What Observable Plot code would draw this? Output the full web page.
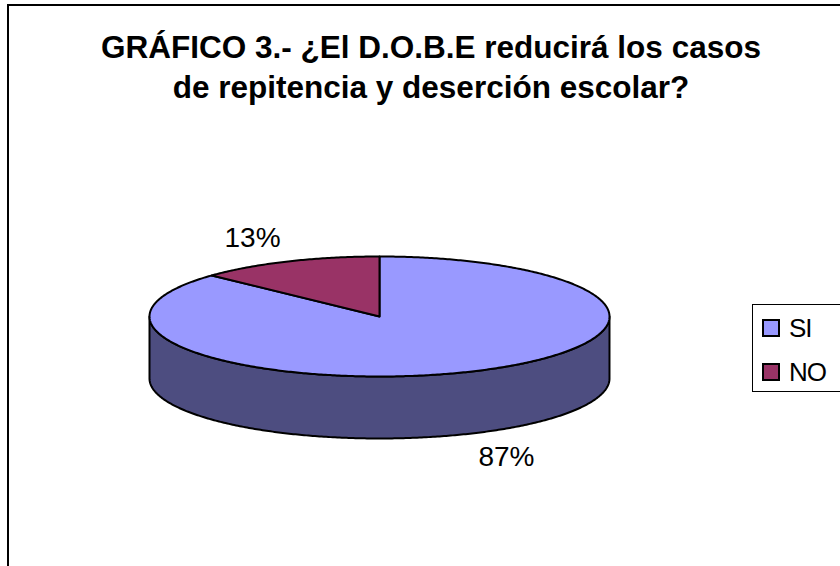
<!DOCTYPE html>
<html>
<head>
<meta charset="utf-8">
<script src="https://cdn.jsdelivr.net/npm/d3@7"></script>
<script src="https://cdn.jsdelivr.net/npm/@observablehq/plot@0.6"></script>
<style>
  html, body { margin: 0; padding: 0; background: #fff; }
  #page { position: relative; width: 840px; height: 566px; overflow: hidden; font-family: "Liberation Sans", Arial, sans-serif; color: #000; }
  #frame { position: absolute; left: 7px; top: 4px; width: 840px; height: 600px; border: 2px solid #000; box-shadow: 1px 1px 0 #bbb; }
  #title { position: absolute; left: 31px; width: 800px; top: 27px; text-align: center; font-weight: bold; font-size: 31.5px; line-height: 40px; white-space: nowrap; }
  #legend { position: absolute; left: 752px; top: 304px; width: 100px; height: 88px; border: 1.5px solid #000; background: #fff; box-sizing: border-box; }
  .item { position: absolute; left: 9px; display: flex; align-items: center; font-size: 26px; letter-spacing: -1px; height: 30px; }
  .swatch { width: 18px; height: 18px; border: 2px solid #000; box-sizing: border-box; margin-right: 9px; }
  #chart { position: absolute; left: 0; top: 0; }
  #chart svg { background: transparent; }
</style>
</head>
<body>
<div id="page">
  <div id="frame"></div>
  <div id="chart"></div>
  <div id="title"></div>
  <div id="legend"></div>
</div>
<script>
const titleLines = ["GRÁFICO 3.- ¿El D.O.B.E reducirá los casos", "de repitencia y deserción escolar?"];
const categories = ["SI", "NO"];
const values = [87, 13];
const topColors = ["#9999FF", "#993366"];
const wallColor = "#4D4D80";

// Pie layout: x is in pie radii, y in units of the squashed vertical radius
const width = 840, height = 566;
const cx = 379, cy = 316, rx = 230, ry = 60, depth = 62 / ry;
const labelRadiusX = 1.39, labelRadiusY = 1.43;

const total = d3.sum(values);
let cumulative = 0;
const slices = categories.map((name, i) => {
  const a0 = cumulative / total * 2 * Math.PI;
  cumulative += values[i];
  const a1 = cumulative / total * 2 * Math.PI;
  return {name, value: values[i], a0, a1, color: topColors[i]};
});

const rim = (a, drop = 0) => ({x: Math.sin(a), y: Math.cos(a) - drop});
const arc = (a0, a1, drop = 0) => {
  const n = Math.max(2, Math.ceil(Math.abs(a1 - a0) / 0.01));
  return d3.range(n + 1).map(i => rim(a0 + (a1 - a0) * i / n, drop));
};

// Visible outer wall: lower half of the rim
const wall = [...arc(Math.PI / 2, 3 * Math.PI / 2), ...arc(3 * Math.PI / 2, Math.PI / 2, depth)];

const sliceShapes = slices.map(s => ({
  ...s,
  points: [{x: 0, y: 0}, ...arc(s.a0, s.a1)]
}));

const labels = slices.map(s => {
  const mid = (s.a0 + s.a1) / 2;
  const p = rim(mid);
  return {
    x: p.x * labelRadiusX,
    y: p.y * labelRadiusY - (p.y < 0 ? depth : 0),
    text: s.value + "%"
  };
});

const plot = Plot.plot({
  width, height,
  margin: 0,
  x: {domain: [-cx / rx, (width - cx) / rx], range: [0, width], axis: null},
  y: {domain: [(cy - height) / ry, cy / ry], range: [height, 0], axis: null},
  marks: [
    Plot.line(wall, {x: "x", y: "y", curve: "linear-closed", fill: wallColor, stroke: "#000", strokeWidth: 2}),
    ...sliceShapes.map(s => Plot.line(s.points, {
      x: "x", y: "y", curve: "linear-closed", fill: s.color, stroke: "#000", strokeWidth: 2, strokeLinejoin: "round"
    })),
    Plot.text(labels, {
      x: "x", y: "y", text: "text", fontSize: 28,
      fontFamily: "Liberation Sans", fill: "#000", textAnchor: "middle", lineAnchor: "middle"
    })
  ]
});
document.getElementById("chart").append(plot);

document.getElementById("title").innerHTML = titleLines.map(t => `<div>${t}</div>`).join("");

document.getElementById("legend").innerHTML = categories.map((c, i) =>
  `<div class="item" style="top:${8 + i * 44}px"><span class="swatch" style="background:${topColors[i]}"></span>${c}</div>`
).join("");
</script>
</body>
</html>
